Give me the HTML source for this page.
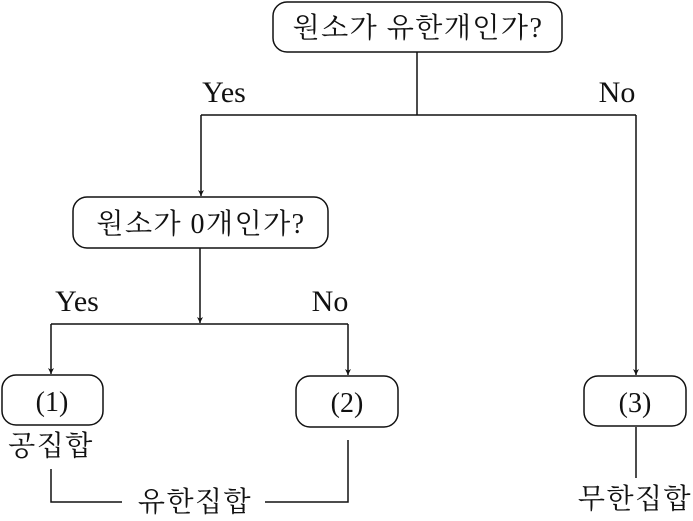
<!DOCTYPE html>
<html><head><meta charset="utf-8"><style>
html,body{margin:0;padding:0;background:#fff;}
svg{display:block;}
text{font-family:"Liberation Serif","Noto Serif CJK SC",serif;fill:#111;}
</style></head><body>
<svg width="693" height="521" viewBox="0 0 693 521" xmlns="http://www.w3.org/2000/svg">
<defs><marker id="a" viewBox="0 0 10 10" refX="10" refY="5" markerWidth="6" markerHeight="7" orient="auto" markerUnits="userSpaceOnUse"><path d="M0,0 L10,5 L0,10 L3,5 z" fill="#111"/></marker></defs>
<g fill="none" stroke="#111" stroke-width="1.5">
<rect x="273" y="2" width="289" height="50" rx="14"/>
<rect x="73" y="197" width="255" height="51" rx="14"/>
<rect x="2" y="375" width="101" height="50" rx="14"/>
<rect x="296" y="376" width="102" height="51" rx="14"/>
<rect x="584" y="376" width="102" height="50" rx="14"/>
<path d="M417 52 V115 M201 115 H636"/>
<path d="M201 115 V196" marker-end="url(#a)"/>
<path d="M636 115 V375" marker-end="url(#a)"/>
<path d="M200 248 V323" marker-end="url(#a)"/>
<path d="M51 324 H348"/>
<path d="M51 324 V374" marker-end="url(#a)"/>
<path d="M348 324 V375" marker-end="url(#a)"/>
<path d="M51 469 V502 H122 M265 502 H348 V440"/>
<path d="M636 427 V478"/>
</g>
<g font-size="28" text-anchor="middle" letter-spacing="1.5">
<text x="418" y="37">원소가 유한개인가?</text>
<text x="201" y="233">원소가 0개인가?</text>
<text x="51" y="455">공집합</text>
<text x="195" y="511">유한집합</text>
<text x="635" y="508">무한집합</text>
</g>
<g font-size="28" text-anchor="middle">
<text x="52" y="411">(1)</text>
<text x="347" y="412">(2)</text>
<text x="635" y="412">(3)</text>
<text x="224" y="102" font-size="30">Yes</text>
<text x="617" y="102" font-size="30">No</text>
<text x="77" y="311" font-size="30">Yes</text>
<text x="330" y="311" font-size="30">No</text>
</g>
</svg>
</body></html>
